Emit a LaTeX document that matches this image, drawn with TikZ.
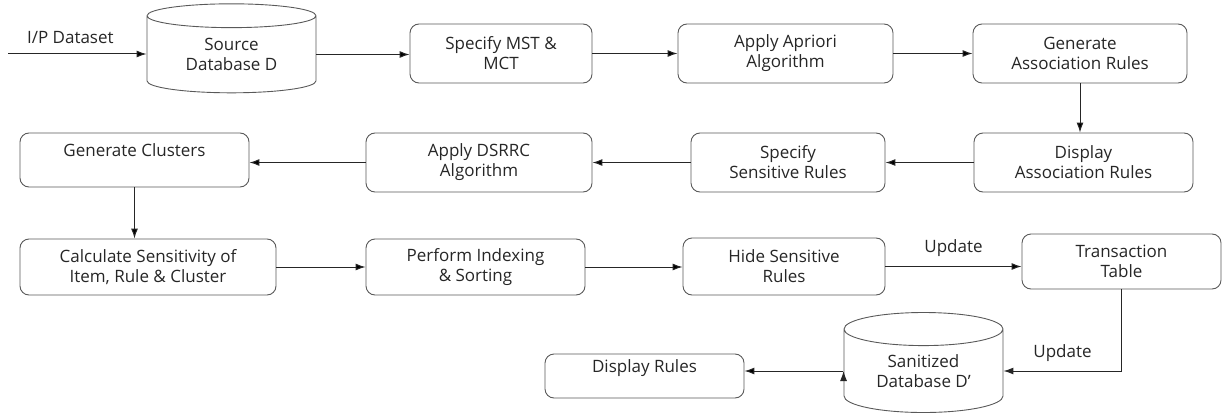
\documentclass[tikz,border=0pt]{standalone}
\usepackage{fontspec}
\setmainfont{Open Sans}
\usetikzlibrary{positioning,shapes,arrows.meta,calc}

\begin{document}
\begin{tikzpicture}[x=1pt,y=1pt,auto]
    \tikzstyle{every node}=[font=\fontsize{17}{20}\selectfont,text=black!85,inner sep=0]
    \tikzstyle{box}=[draw=black!65,line width=0.9pt,rounded corners=9pt,align=center,minimum height=59]
    \tikzstyle{db}=[draw=black!65,line width=0.9pt,line join=round,cylinder,shape border rotate=90,align=center]
    \tikzstyle{note}=[draw=none,fill=none]
    \tikzstyle{flow}=[draw=black!85,line width=1pt,-{Latex[length=10pt,width=7pt]}]
    \useasboundingbox (0,0) rectangle (1222,-412);
    {
        % first row
        \coordinate (ipin) at (8,-54);
        \node[db,minimum width=169,minimum height=89,aspect=0.26] (srcdb) at (231.5,-54.5) {Source\\Database D};
        \node[box,minimum width=182] (mst) at (501,-53.5) {Specify MST \&\\MCT};
        \node[box,minimum width=215] (apriori) at (785.5,-53.5) {Apply Apriori\\Algorithm};
        \node[box,minimum width=214] (genrules) at (1080,-53.5) {Generate\\Association Rules};

        % second row
        \node[box,minimum width=219] (disprules) at (1083.5,-162.5) {Display\\Association Rules};
        \node[box,minimum width=194] (sensrules) at (788,-162.5) {Specify\\Sensitive Rules};
        \node[box,minimum width=226] (dsrrc) at (479,-162.5) {Apply DSRRC\\Algorithm};
        \node[box,minimum width=229,minimum height=54] (clusters) at (134.5,-160) {Generate Clusters\\ \mbox{}};

        % third row
        \node[box,minimum width=256,minimum height=56] (calc) at (148,-267) {Calculate Sensitivity of\\Item, Rule \& Cluster};
        \node[box,minimum width=219,minimum height=56] (index) at (475.5,-267) {Perform Indexing\\\& Sorting};
        \node[box,minimum width=202,minimum height=57] (hide) at (784,-266.5) {Hide Sensitive\\Rules};
        \node[box,minimum width=199,minimum height=55] (trans) at (1121.5,-261.5) {Transaction\\Table};

        % last row
        \node[db,minimum width=159,minimum height=100,aspect=0.35] (sanitdb) at (923.5,-371) {Sanitized\\Database D'};
        \node[box,minimum width=199,minimum height=44] (disp) at (644.5,-376) {Display Rules\\ \mbox{}};

        \path[flow]
            (ipin) edge node[note,above=10pt,pos=0.45] {I/P Dataset} (ipin -| srcdb.180)
            (srcdb.0) edge (srcdb.0 -| mst.west)
            (mst) edge (apriori)
            (apriori) edge (genrules)
            (genrules.south) edge (genrules.south |- disprules.north)
            (disprules) edge (sensrules)
            (sensrules) edge (dsrrc)
            (dsrrc.west) edge (dsrrc.west -| clusters.east)
            (clusters.south) edge (clusters.south |- calc.north)
            (calc) edge (index)
            (index.east) edge (index.east -| hide.west)
            (hide.east) edge node[note,above=9pt] {Update} (hide.east -| trans.west)
            (sanitdb.180) edge[shorten <=1pt] (sanitdb.180 -| disp.east);

        \draw[flow] (trans.south) |- node[note,above=9pt,pos=0.75] {Update} (sanitdb.0);
    }
\end{tikzpicture}
\end{document}
